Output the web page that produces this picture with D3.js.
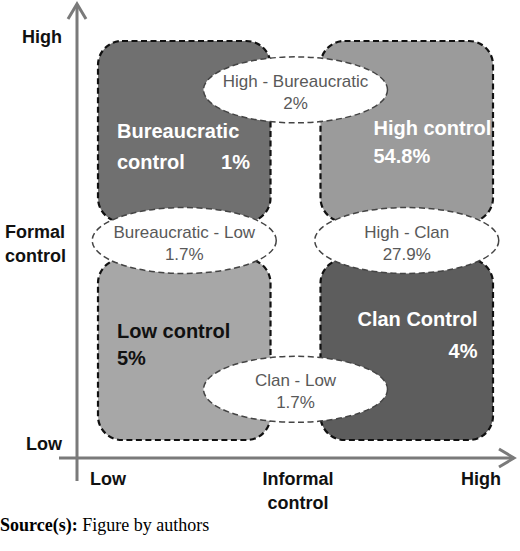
<!DOCTYPE html>
<html>
<head>
<meta charset="utf-8">
<script src="https://cdn.jsdelivr.net/npm/d3@7"></script>
<style>
  body { margin: 0; background: #fff; }
  text { font-family: "Liberation Sans", Arial, sans-serif; }
</style>
</head>
<body>
<div id="chart-area"></div>
<script>
const WIDTH = 520
const HEIGHT = 551

// informal control runs left to right, formal control top (high) to bottom (low)
var informalLevels = ["Low", "High"]
var formalLevels = ["High", "Low"]

var quadrants = ["Bureaucratic control", "High control", "Low control", "Clan Control"]
var quadrantInformal = ["Low", "High", "Low", "High"]
var quadrantFormal = ["High", "High", "Low", "Low"]
var quadrantShares = ["1%", "54.8%", "5%", "4%"]

var overlaps = ["High - Bureaucratic", "Bureaucratic - Low", "High - Clan", "Clan - Low"]
var overlapFrom = ["Bureaucratic control", "Bureaucratic control", "High control", "Low control"]
var overlapTo = ["High control", "Low control", "Clan Control", "Clan Control"]
var overlapShares = ["2%", "1.7%", "27.9%", "1.7%"]

var axisTicks = ["Low", "High"]

var svg = d3.select("#chart-area").append("svg")
    .attr("width", WIDTH)
    .attr("height", HEIGHT)

var xBand = d3.scaleBand()
    .domain(informalLevels)
    .range([98, 493])
    .paddingInner(0.2247)

var yBand = d3.scaleBand()
    .domain(formalLevels)
    .range([41, 440])
    .paddingInner(0.17)

var quadColours = d3.scaleOrdinal()
    .domain(quadrants)
    .range(["#707070", "#9b9b9b", "#a7a7a7", "#5d5d5d"])

var quadData = quadrants.map(function(name, i){
    return {name: name, informal: quadrantInformal[i], formal: quadrantFormal[i], share: quadrantShares[i]}
})

// quadrant boxes
svg.selectAll("rect.quad").data(quadData).enter()
    .append("rect")
    .attr("class", "quad")
    .attr("x", function(d){ return xBand(d.informal) })
    .attr("y", function(d){ return yBand(d.formal) })
    .attr("width", xBand.bandwidth())
    .attr("height", yBand.bandwidth())
    .attr("rx", 24)
    .attr("fill", function(d){ return quadColours(d.name) })
    .attr("stroke", "#111")
    .attr("stroke-width", 2.2)
    .attr("stroke-dasharray", "6,3.5")

// text placement inside each box, relative to the box corner
var labelLayout = {
    "Bureaucratic control": {lines: ["Bureaucratic", "control"], x: 19, y: 97, anchor: "start", shareX: 152, shareY: 128, shareAnchor: "end", colour: "#fff"},
    "High control": {lines: ["High control"], x: 53, y: 94, anchor: "start", shareX: 53, shareY: 122, shareAnchor: "start", colour: "#fff"},
    "Low control": {lines: ["Low control"], x: 19, y: 79, anchor: "start", shareX: 19, shareY: 106, shareAnchor: "start", colour: "#111"},
    "Clan Control": {lines: ["Clan Control"], x: 157, y: 67, anchor: "end", shareX: 157, shareY: 99, shareAnchor: "end", colour: "#fff"}
}

quadData.forEach(function(d){
    var lay = labelLayout[d.name]
    var x0 = xBand(d.informal)
    var y0 = yBand(d.formal)
    lay.lines.forEach(function(line, j){
        svg.append("text")
            .attr("x", x0 + lay.x)
            .attr("y", y0 + lay.y + j * 31)
            .attr("text-anchor", lay.anchor)
            .attr("font-size", "20px")
            .attr("font-weight", "bold")
            .attr("fill", lay.colour)
            .text(line)
    })
    svg.append("text")
        .attr("x", x0 + lay.shareX)
        .attr("y", y0 + lay.shareY)
        .attr("text-anchor", lay.shareAnchor)
        .attr("font-size", "20px")
        .attr("font-weight", "bold")
        .attr("fill", lay.colour)
        .text(d.share)
})

// overlap ellipses sit on the gap between two neighbouring boxes
function quadOf(name){ return quadData[quadrants.indexOf(name)] }

var overlapData = overlaps.map(function(name, i){
    var a = quadOf(overlapFrom[i])
    var b = quadOf(overlapTo[i])
    var cx, cy
    if (a.formal === b.formal) {
        cx = (xBand(a.informal) + xBand.bandwidth() + xBand(b.informal)) / 2
        var frac = a.formal === "High" ? 0.27 : 0.72
        cy = yBand(a.formal) + frac * yBand.bandwidth()
    } else {
        cx = xBand(a.informal) + xBand.bandwidth() / 2
        cy = (yBand(a.formal) + yBand.bandwidth() + yBand(b.formal)) / 2
    }
    return {name: name, share: overlapShares[i], cx: cx, cy: cy}
})

var ov = svg.selectAll("g.overlap").data(overlapData).enter()
    .append("g")
    .attr("class", "overlap")
    .attr("transform", function(d){ return "translate(" + d.cx + "," + d.cy + ")" })

ov.append("ellipse")
    .attr("rx", 92)
    .attr("ry", 33)
    .attr("fill", "#fff")
    .attr("stroke", "#444")
    .attr("stroke-width", 1.5)
    .attr("stroke-dasharray", "6,3.5")

ov.append("text")
    .attr("y", -3)
    .attr("text-anchor", "middle")
    .attr("font-size", "17px")
    .attr("fill", "#595959")
    .text(function(d){ return d.name })

ov.append("text")
    .attr("y", 19)
    .attr("text-anchor", "middle")
    .attr("font-size", "17px")
    .attr("fill", "#595959")
    .text(function(d){ return d.share })

// axes
var axisColour = "#7a7a7a"
svg.append("line")
    .attr("x1", 77).attr("x2", 77)
    .attr("y1", 481).attr("y2", 4)
    .attr("stroke", axisColour).attr("stroke-width", 3)
svg.append("path")
    .attr("d", "M68,19 L77,4 L86,19")
    .attr("fill", "none").attr("stroke", axisColour).attr("stroke-width", 3)

svg.append("line")
    .attr("x1", 59).attr("x2", 514)
    .attr("y1", 458).attr("y2", 458)
    .attr("stroke", axisColour).attr("stroke-width", 3)
svg.append("path")
    .attr("d", "M499,449 L514,458 L499,467")
    .attr("fill", "none").attr("stroke", axisColour).attr("stroke-width", 3)

var xTick = d3.scalePoint().domain(axisTicks).range([108, 481])
var yTick = d3.scalePoint().domain(axisTicks).range([450, 43])

svg.selectAll("text.xtick").data(axisTicks).enter()
    .append("text")
    .attr("class", "xtick")
    .attr("x", function(d){ return xTick(d) })
    .attr("y", 485)
    .attr("text-anchor", "middle")
    .attr("font-size", "18px")
    .attr("font-weight", "bold")
    .attr("fill", "#111")
    .text(function(d){ return d })

svg.selectAll("text.ytick").data(axisTicks).enter()
    .append("text")
    .attr("class", "ytick")
    .attr("x", 62)
    .attr("y", function(d){ return yTick(d) })
    .attr("text-anchor", "end")
    .attr("font-size", "18px")
    .attr("font-weight", "bold")
    .attr("fill", "#111")
    .text(function(d){ return d })

//x label
svg.append("text")
    .attr("x", 298).attr("y", 485)
    .attr("text-anchor", "middle")
    .attr("font-size", "18px").attr("font-weight", "bold").attr("fill", "#111")
    .text("Informal")
svg.append("text")
    .attr("x", 298).attr("y", 509)
    .attr("text-anchor", "middle")
    .attr("font-size", "18px").attr("font-weight", "bold").attr("fill", "#111")
    .text("control")

//y label
svg.append("text")
    .attr("x", 5).attr("y", 238)
    .attr("font-size", "18px").attr("font-weight", "bold").attr("fill", "#111")
    .text("Formal")
svg.append("text")
    .attr("x", 5).attr("y", 262)
    .attr("font-size", "18px").attr("font-weight", "bold").attr("fill", "#111")
    .text("control")

// source note
var src = svg.append("text")
    .attr("x", 0).attr("y", 531)
    .attr("font-size", "18px")
    .style("font-family", "'Liberation Serif', 'Times New Roman', serif")
    .attr("fill", "#000")
src.append("tspan").attr("font-weight", "bold").text("Source(s):")
src.append("tspan").text(" Figure by authors")
</script>
</body>
</html>
